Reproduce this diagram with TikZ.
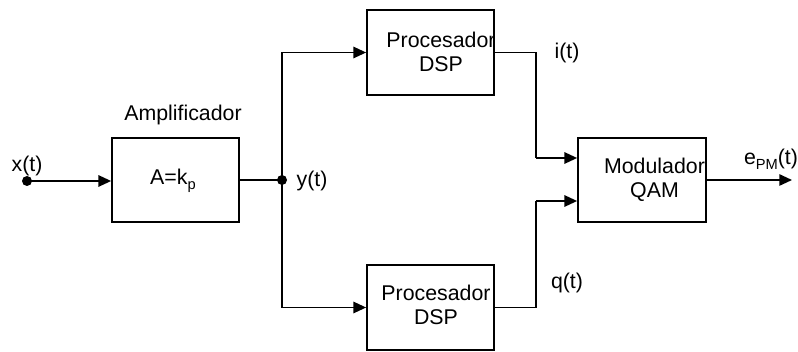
\documentclass[tikz,border=0pt]{standalone}
\usepackage{fontspec}
\setmainfont{Liberation Sans}
\usetikzlibrary{arrows.meta}
\newcommand{\lowsub}[1]{\raisebox{-0.45ex}{\fontsize{11}{11}\selectfont #1}}
\begin{document}
\begin{tikzpicture}[x=0.75pt,y=-0.75pt,
  blk/.style={draw,line width=1.3pt,inner sep=0pt,minimum width=95.25pt,minimum height=63.5pt},
  txt/.style={inner sep=0pt,font=\fontsize{16}{18}\selectfont,align=center},
  wire/.style={line width=1.3pt},
  arr/.style={wire,-{Triangle[length=9.5pt,width=8.5pt]}},
  dot/.style={circle,fill,inner sep=0pt,minimum size=7.5pt}]
\useasboundingbox (0,0) rectangle (798,352);
% blocks
\node[blk] (amp) at (175.5,180) {};
\node[blk] (dsp1) at (430.5,52.5) {};
\node[blk] (dsp2) at (430.5,307.5) {};
\node[blk,minimum width=96pt] (mod) at (642,180) {};
% texts
\node[txt] (tamp) at (183,115) {Amplificador};
\node[txt] (tA) at (173,181) {A=k\lowsub{p}};
\node[txt] (tdsp1) at (441,52) {Procesador\\DSP};
\node[txt] (tdsp2) at (436,305) {Procesador\\DSP};
\node[txt] (tmod) at (654.5,180) {Modulador\\QAM};
\node[txt] (tx) at (27,166) {x(t)};
\node[txt] (ty) at (312,181) {y(t)};
\node[txt] (ti) at (567,53) {i(t)};
\node[txt] (tq) at (567,283) {q(t)};
\node[txt] (te) at (771,159) {e\lowsub{PM}(t)};
% points
\node[dot] (xin) at (27,181) {};
\node[dot] (jn) at (282,180) {};
\coordinate (jtop) at (282,52.5);
\coordinate (jbot) at (282,307.5);
\coordinate (c1) at (536,52.5);
\coordinate (c1b) at (536,158);
\coordinate (c2) at (536,307.5);
\coordinate (c2b) at (536,201);
\coordinate (out) at (792,180);
% wires
\draw[arr] (xin.center) -- (amp.west |- xin);
\draw[wire] (amp.east) -- (jn.center);
\draw[wire] (jtop) -- (jbot);
\draw[arr] (jtop) -- (dsp1.west);
\draw[arr] (jbot) -- (dsp2.west);
\draw[wire] (dsp1.east) -- (c1) -- (c1b);
\draw[arr] (c1b) -- (mod.west |- c1b);
\draw[wire] (dsp2.east) -- (c2) -- (c2b);
\draw[arr] (c2b) -- (mod.west |- c2b);
\draw[arr] (mod.east) -- (out);
\end{tikzpicture}
\end{document}
